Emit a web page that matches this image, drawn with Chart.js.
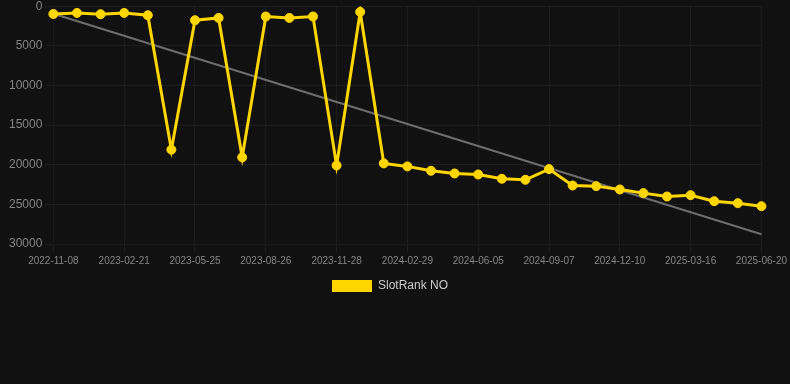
<!DOCTYPE html>
<html>
<head>
<meta charset="utf-8">
<script src="https://cdn.jsdelivr.net/npm/chart.js@4/dist/chart.umd.min.js"></script>
<style>
    html, body { margin: 0; padding: 0; background: #111111; overflow: hidden; }
    #wrap { width: 790px; height: 306px; position: relative; margin-top: -4px; }
</style>
</head>
<body>
<div id="wrap"><canvas id="rank-chart"></canvas></div>
<script>
"use strict";
const dates = [
    "2022-11-08", "2022-12-13", "2023-01-17", "2023-02-21", "2023-03-24", "2023-04-24",
    "2023-05-25", "2023-06-25", "2023-07-26", "2023-08-26", "2023-09-27", "2023-10-28",
    "2023-11-28", "2023-12-29", "2024-01-29", "2024-02-29", "2024-04-01", "2024-05-03",
    "2024-06-05", "2024-07-06", "2024-08-06", "2024-09-07", "2024-10-08", "2024-11-08",
    "2024-12-10", "2025-01-11", "2025-02-12", "2025-03-16", "2025-04-17", "2025-05-19",
    "2025-06-20"
];
const rank_values = [
    980, 850, 1010, 850, 1140, 18100, 1770, 1480, 19070, 1300, 1480, 1300,
    20090, 720, 19830, 20210, 20760, 21100, 21230, 21770, 21900, 20550, 22620, 22700,
    23120, 23580, 24010, 23840, 24600, 24850, 25230
];
// trend line, only the two ends
const trend_values = [
    950, null, null, null, null, null, null, null, null, null, null, null,
    null, null, null, null, null, null, null, null, null, null, null, null,
    null, null, null, null, null, null, 28770
];
const y_ticks = [0, 5000, 10000, 15000, 20000, 25000, 30000];

const gold = 'rgb(255, 214, 0)';

const rank_chart = new Chart(document.getElementById("rank-chart"), {
    type: 'line',
    data: {
        labels: dates,
        datasets: [{
                label: 'SlotRank NO',
                data: rank_values,
                borderColor: gold,
                backgroundColor: gold,
                borderWidth: 3,
                pointRadius: 4.5,
                pointBorderWidth: 1,
                pointHoverRadius: 6,
                tension: 0,
            }, {
                label: 'trend',
                data: trend_values,
                borderColor: 'rgba(140, 140, 140, 0.75)',
                borderWidth: 2,
                pointRadius: 0,
                spanGaps: true,
            }],
    },
    options: {
        responsive: true,
        maintainAspectRatio: false,
        animation: false,
        layout: { padding: { left: 6, right: 16 } },
        scales: {
            x: {
                grid: { color: 'rgba(255, 255, 255, 0.05)' },
                ticks: {
                    color: '#858585',
                    font: { size: 10 },
                    maxRotation: 0,
                    maxTicksLimit: 11,
                },
            },
            y: {
                reverse: true,
                min: y_ticks[0],
                max: y_ticks[y_ticks.length - 1],
                grid: { color: 'rgba(255, 255, 255, 0.05)' },
                ticks: {
                    color: '#858585',
                    font: { size: 12 },
                    stepSize: 5000,
                    callback: function (value) {
                        return String(value);
                    },
                },
            },
        },
        plugins: {
            legend: {
                position: 'bottom',
                labels: {
                    color: '#cccccc',
                    font: { size: 12 },
                    boxWidth: 40,
                    boxHeight: 12,
                    filter: function (item) {
                        return item.text !== 'trend';
                    },
                    generateLabels: function (chart) {
                        const items = Chart.defaults.plugins.legend.labels.generateLabels(chart);
                        items.forEach(function (it) { it.lineWidth = 0; });
                        return items;
                    },
                },
            },
            tooltip: { enabled: false },
        },
    },
});
</script>
</body>
</html>
